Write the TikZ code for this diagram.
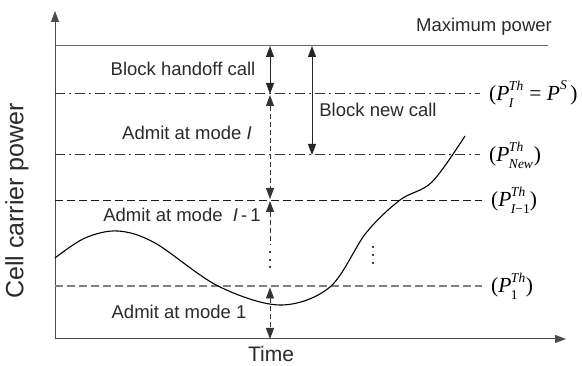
\documentclass[tikz,border=0pt]{standalone}
\usepackage{fontspec}
\setmainfont{Liberation Sans}
\newfontfamily\tms{Liberation Serif}
\usetikzlibrary{arrows.meta}
\definecolor{txt}{HTML}{2a2a2a}
\newcommand{\smf}{\fontsize{13.5}{13.5}\selectfont}
\newcommand{\Pth}[2]{{\itshape P}\kern-0.5pt\makebox[#2][l]{\rlap{\raisebox{0.48em}{\smf\itshape Th}}\raisebox{-0.32em}{\smf #1}}}
\tikzset{
  lbl/.style={text=txt, inner sep=0pt, font=\fontsize{18.5}{20}\selectfont},
  mlbl/.style={text=black, inner sep=0pt, anchor=west, font=\tms\fontsize{21.5}{24}\selectfont},
  tri/.tip={Triangle[length=11pt,width=8pt]},
  tip/.style={-tri},
  dtip/.style={tri-tri},
  dashdot/.style={draw=black!80, line width=1pt, dash pattern=on 10pt off 4pt on 2pt off 4pt},
  dashA/.style={draw=black!90, line width=0.9pt, dash pattern=on 8pt off 4pt},
  dashB/.style={draw=black!50, line width=1.2pt, dash pattern=on 8pt off 4pt},
  vdash/.style={draw=black!80, line width=0.8pt, dash pattern=on 5pt off 3pt},
  dotmark/.style={fill=black, circle, inner sep=0pt, minimum size=2.4pt}
}
\begin{document}
\begin{tikzpicture}[x=1pt,y=-1pt]
\useasboundingbox (0,0) rectangle (582,366);
% axes
\coordinate (O) at (55,339);
\coordinate (ytop) at (55,11);
\coordinate (xend) at (566,339);
\draw[black!70, line width=1pt, tip] (O) -- (ytop);
\draw[black!70, line width=1pt, tip] (O) -- (xend);
% levels
\coordinate (m0) at (55,46);  \coordinate (m1) at (548,46);
\coordinate (a0) at (55,94);  \coordinate (a1) at (480,94);
\coordinate (b0) at (55,155); \coordinate (b1) at (480,155);
\coordinate (c0) at (55,200); \coordinate (c1) at (482,200);
\coordinate (d0) at (55,286); \coordinate (d1) at (482,286);
\draw[black!60, line width=1pt] (m0) -- (m1);
\draw[dashdot] (a0) -- (a1);
\draw[dashdot] (b0) -- (b1);
\draw[dashA] (c0) -- (c1);
\draw[dashB] (d0) -- (d1);
% curve
\draw[black, line width=1.1pt] plot[smooth, tension=0.55] coordinates {
 (55,258) (85,238) (118,231) (155,243) (218,286) (280,305)
 (330,287) (366,233) (400,200) (432,182) (465,136)};
% vertical arrows at x=270
\coordinate (h0) at (270,46); \coordinate (h1) at (270,94);
\draw[black!85, line width=0.9pt, dtip] (h0) -- (h1);
\coordinate (i0) at (270,95) ; \coordinate (i1) at (270,199);
\draw[black!80, line width=0.8pt, tip] ([yshift=-11pt]i0) -- (i0);
\draw[vdash] ([yshift=-11pt]i0) -- ([yshift=11pt]i1);
\draw[black!80, line width=0.8pt, tip] ([yshift=11pt]i1) -- (i1);
\coordinate (j0) at (270,201); \coordinate (j1) at (270,245);
\draw[black!80, line width=0.8pt, tip] ([yshift=-11pt]j0) -- (j0);
\draw[vdash] ([yshift=-11pt]j0) -- (j1);
\node[dotmark] (dt1) at (270,252) {};
\node[dotmark] (dt2) at (270,260) {};
\node[dotmark] (dt3) at (270,267) {};
\coordinate (k0) at (270,287.5); \coordinate (k1) at (270,339);
\draw[black!80, line width=0.8pt, tip] ([yshift=-11pt]k0) -- (k0);
\draw[vdash] ([yshift=-11pt]k0) -- ([yshift=11pt]k1);
\draw[black!80, line width=0.8pt, tip] ([yshift=11pt]k1) -- (k1);
% block new call arrow
\coordinate (n0) at (312,46); \coordinate (n1) at (312,155);
\draw[black!85, line width=0.9pt, dtip] (n0) -- (n1);
% dots right
\node[dotmark] (ds1) at (373,247) {};
\node[dotmark] (ds2) at (373,255) {};
\node[dotmark] (ds3) at (373,263) {};
% labels
\node[lbl] (lmax) at (484,27) {Maximum power};
\node[lbl] (lbh) at (183,69) {Block handoff call};
\node[lbl] (lai) at (187,133) {Admit at mode \textit{I}};
\node[lbl] (lbn) at (378,110) {Block new call};
\node[lbl] (lai1) at (182,215) {Admit at mode \ \textit{I}\,-\,1};
\node[lbl] (la1) at (179,312) {Admit at mode 1};
\node[lbl, font=\fontsize{21}{23}\selectfont] (ltime) at (271,354) {Time};
\node[lbl, font=\fontsize{25}{27}\selectfont, rotate=90] (lcell) at (17,201) {Cell carrier power};
% threshold labels
\node[mlbl] (pA) at (489,94) {(\Pth{\itshape I}{15pt} = {\itshape P}\raisebox{0.5em}{\smf\itshape S}\,)};
\node[mlbl] (pB) at (489,155) {(\Pth{\itshape New}{25pt})};
\node[mlbl] (pC) at (491,200) {(\Pth{\itshape I\upshape −1}{19pt})};
\node[mlbl] (pD) at (491,286) {(\Pth{1}{15pt})};
\end{tikzpicture}
\end{document}
